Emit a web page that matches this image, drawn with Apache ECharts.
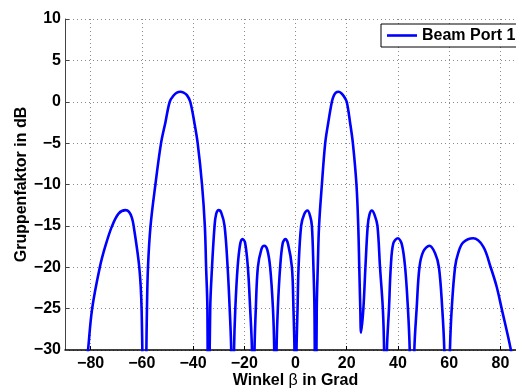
<!DOCTYPE html>
<html>
<head>
<meta charset="utf-8">
<script src="https://cdn.jsdelivr.net/npm/echarts@6/dist/echarts.min.js"></script>
<style>
  html, body { margin: 0; padding: 0; background: #fff; }
  #chart { width: 516px; height: 389px; }
</style>
</head>
<body>
<div id="chart"></div>
<script>
// Array factor of beam port 1 over the steering angle
const seriesName = 'Beam Port 1';

// angle in degrees
const angleDeg = [
  -82.6, -81.0, -79.4, -76.4, -74.2, -71.6, -69.0, -66.4, -65.0, -63.9, -63.2, -61.0, -60.1, -59.0,
  -58.0, -57.6, -56.6, -54.7, -52.5, -50.8, -49.1, -47.6, -46.3, -45.0, -43.7, -42.4, -41.1, -39.5, -38.2, -36.5, -35.4, -34.9, -34.4, -34.1,
  -33.3, -32.6, -31.6, -31.0, -30.0, -29.0, -27.7, -26.5, -25.7, -25.1, -24.6,
  -24.0, -23.5, -22.6, -21.6, -20.7, -19.7, -18.6, -17.7, -17.0, -16.4,
  -16.0, -15.5, -14.7, -13.3, -12.2, -11.0, -9.9, -8.8, -8.3, -7.8,
  -7.4, -6.9, -6.0, -5.0, -4.0, -2.9, -1.4, -0.8, -0.4, 0.0,
  0.4, 0.8, 1.2, 2.2, 3.4, 4.7, 5.7, 6.4, 7.0, 7.4, 7.85,
  8.3, 8.7, 9.2, 10.3, 11.6, 12.8, 14.2, 14.9, 15.7, 16.8, 18.0, 19.0, 20.0, 21.3, 22.4, 23.8, 24.5, 24.9, 25.3, 25.6,
  26.5, 27.3, 28.2, 28.9, 29.8, 30.9, 32.0, 33.0, 34.1, 34.6, 35.2,
  35.7, 36.5, 37.2, 38.2, 40.0, 41.5, 42.8, 43.9, 44.6, 45.5,
  46.4, 47.3, 48.4, 49.9, 52.3, 54.5, 56.0, 57.3, 58.1, 59.2,
  60.3, 61.0, 62.3, 63.6, 65.5, 69.4, 73.3, 76.2, 78.5, 80.5, 84.1, 85.6
];

// array factor in dB
const gainDb = [
  -35.0, -30.0, -25.0, -20.0, -17.4, -15.0, -13.5, -13.1, -13.3, -14.0, -15.0, -20.0, -25.0, -45.0,
  -25.0, -20.0, -15.0, -10.0, -5.0, -2.5, 0.0, 0.75, 1.1, 1.2, 1.1, 0.8, 0.0, -2.5, -5.0, -10.0, -15.0, -20.0, -25.0, -45.0,
  -25.0, -20.0, -15.0, -13.6, -13.1, -13.4, -15.0, -20.0, -25.0, -30.0, -45.0,
  -30.0, -25.0, -20.0, -17.2, -16.6, -17.0, -20.0, -25.0, -30.0, -45.0,
  -30.0, -25.0, -20.0, -17.8, -17.4, -17.9, -20.0, -25.0, -30.0, -45.0,
  -30.0, -25.0, -20.0, -17.1, -16.6, -17.2, -20.0, -25.0, -30.0, -45.0,
  -30.0, -25.0, -20.0, -15.0, -13.6, -13.15, -13.8, -15.0, -20.0, -25.0, -45.0,
  -25.0, -20.0, -15.0, -10.0, -5.0, -2.5, 0.0, 0.7, 1.1, 1.2, 1.0, 0.6, 0.0, -2.5, -5.0, -10.0, -15.0, -20.0, -25.0, -27.9,
  -25.0, -20.0, -15.0, -13.6, -13.15, -13.7, -15.0, -20.0, -25.0, -30.0, -45.0,
  -30.0, -25.0, -20.0, -17.1, -16.5, -17.2, -20.0, -25.0, -30.0, -45.0,
  -30.0, -25.0, -20.0, -18.1, -17.4, -18.3, -20.0, -25.0, -30.0, -45.0,
  -30.0, -25.0, -20.0, -18.2, -17.0, -16.5, -17.5, -20.0, -22.3, -25.0, -30.0, -33.0
];

// axis ticks
const xTicks = [-80, -60, -40, -20, 0, 20, 40, 60, 80];

const FONT = '"Liberation Sans", Arial, Helvetica, sans-serif';
const minusSign = v => String(v).replace('-', '\u2212');

const points = angleDeg.map((a, i) => [a, gainDb[i]]);

const chart = echarts.init(document.getElementById('chart'), null, { renderer: 'canvas' });

const gridLine = { show: true, lineStyle: { color: '#8a8a8a', width: 1, type: [1, 3] } };

chart.setOption({
  animation: false,
  backgroundColor: '#fff',
  grid: { left: 65, top: 19, width: 461, height: 331, containLabel: false, outerBoundsMode: 'none' },
  legend: {
    data: [seriesName],
    icon: 'rect',
    left: 381,
    top: 24,
    padding: [3, 6, 3, 6],
    itemWidth: 30,
    itemHeight: 2.6,
    itemStyle: { color: '#0000ff' },
    borderColor: '#000',
    borderWidth: 1,
    backgroundColor: '#fff',
    textStyle: { fontFamily: FONT, fontWeight: 'bold', fontSize: 16, color: '#000', lineHeight: 17 }
  },
  xAxis: {
    type: 'value',
    min: -90,
    max: 90,
    name: '{b|Winkel }{n|\u03b2}{b| in Grad}',
    nameLocation: 'middle',
    nameGap: 23,
    nameMoveOverlap: false,
    nameTextStyle: {
      rich: {
        b: { fontFamily: FONT, fontWeight: 'bold', fontSize: 16, color: '#000' },
        n: { fontFamily: FONT, fontWeight: 'normal', fontSize: 16, color: '#000' }
      }
    },
    axisLine: { show: true, onZero: false, lineStyle: { color: '#000', width: 1.5 } },
    axisTick: { show: true, inside: true, length: 4, customValues: xTicks, lineStyle: { color: '#000' } },
    axisLabel: {
      customValues: xTicks,
      margin: 6,
      fontFamily: FONT, fontWeight: 'bold', fontSize: 16, color: '#000',
      formatter: minusSign
    },
    splitLine: gridLine
  },
  yAxis: {
    type: 'value',
    min: -30,
    max: 10,
    interval: 5,
    name: 'Gruppenfaktor in dB',
    nameLocation: 'middle',
    nameGap: 35,
    nameMoveOverlap: false,
    nameTextStyle: { fontFamily: FONT, fontWeight: 'bold', fontSize: 16, color: '#000' },
    axisLine: { show: true, onZero: false, lineStyle: { color: '#444', width: 1 } },
    axisTick: { show: true, inside: true, length: 4, lineStyle: { color: '#444' } },
    axisLabel: {
      margin: 4,
      fontFamily: FONT, fontWeight: 'bold', fontSize: 16, color: '#000',
      formatter: minusSign
    },
    splitLine: gridLine
  },
  series: [{
    name: seriesName,
    type: 'line',
    data: points,
    symbol: 'none',
    showSymbol: false,
    smooth: 0.35,
    clip: true,
    lineStyle: { color: '#0000ff', width: 2.6 },
    itemStyle: { color: '#0000ff' }
  }]
});
</script>
</body>
</html>
